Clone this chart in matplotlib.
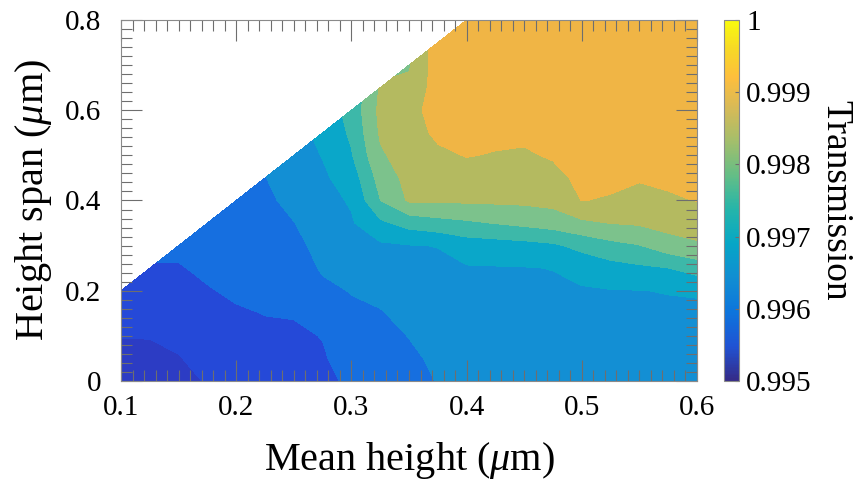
import numpy as np
import matplotlib
matplotlib.use("Agg")
import matplotlib.pyplot as plt
from matplotlib.colors import LinearSegmentedColormap, Normalize
from matplotlib.ticker import MultipleLocator
import matplotlib.cm as cm

plt.rcParams['font.family'] = 'Liberation Serif'
plt.rcParams['mathtext.fontset'] = 'custom'
plt.rcParams['mathtext.rm'] = 'Liberation Serif'
plt.rcParams['mathtext.it'] = 'Liberation Serif:italic'

# grid of the simulation
mean_height = [0.1, 0.125, 0.15, 0.175, 0.2, 0.225, 0.25, 0.275, 0.3, 0.325, 0.35,
               0.375, 0.4, 0.425, 0.45, 0.475, 0.5, 0.525, 0.55, 0.575, 0.6]
height_span = [0.0, 0.05, 0.1, 0.15, 0.2, 0.25, 0.3, 0.35, 0.4, 0.45, 0.5,
               0.55, 0.6, 0.65, 0.7, 0.75, 0.8]

# transmission, one list per mean height (span from 0 upwards, span <= 2*mean)
trans_cols = [
    [.99535, .99543, .99551, .99563, .99578],
    [.99537, .99544, .99551, .99565, .99580, .99597],
    [.99542, .99548, .99559, .99571, .99584, .99597, .99609],
    [.99552, .99563, .99574, .99585, .99597, .99608, .99620, .99632],
    [.99563, .99574, .99584, .99595, .99607, .99618, .99629, .99640, .99648],
    [.99574, .99583, .99592, .99601, .99609, .99617, .99625, .99634, .99642, .99649],
    [.99584, .99590, .99595, .99602, .99614, .99626, .99638, .99649, .99661, .99668, .99676],
    [.99593, .99597, .99601, .99620, .99640, .99655, .99664, .99674, .99683, .99692, .99702, .99711],
    [.99605, .99613, .99630, .99642, .99652, .99668, .99681, .99695, .99705, .99723, .99746, .99758, .99767],
    [.99620, .99629, .99638, .99647, .99661, .99677, .99692, .99740, .99799, .99819, .99843, .99856, .99862, .99855],
    [.99634, .99643, .99651, .99663, .99675, .99686, .99698, .99769, .99856, .99866, .99874, .99880, .99885, .99862, .99845],
    [.99652, .99657, .99666, .99674, .99683, .99692, .99701, .99783, .99855, .99873, .99891, .99909, .99918, .99922, .99925, .99927],
    [.99658, .99666, .99673, .99681, .99689, .99696, .99724, .99792, .99858, .99879, .99902, .99915, .99922, .99925, .99927, .99929, .99930],
    [.99660, .99668, .99676, .99683, .99691, .99697, .99728, .99802, .99859, .99878, .99897, .99912, .99920, .99924, .99926, .99928, .99930],
    [.99662, .99669, .99676, .99684, .99691, .99698, .99733, .99812, .99860, .99877, .99894, .99910, .99918, .99922, .99925, .99928, .99930],
    [.99663, .99670, .99678, .99685, .99693, .99701, .99742, .99823, .99865, .99885, .99905, .99915, .99920, .99923, .99926, .99928, .99930],
    [.99664, .99672, .99680, .99687, .99695, .99717, .99764, .99840, .99901, .99912, .99918, .99920, .99922, .99924, .99926, .99928, .99930],
    [.99665, .99673, .99681, .99690, .99698, .99731, .99785, .99851, .99896, .99910, .99916, .99920, .99922, .99924, .99926, .99928, .99930],
    [.99666, .99674, .99683, .99691, .99699, .99741, .99798, .99856, .99881, .99905, .99913, .99918, .99920, .99923, .99926, .99928, .99930],
    [.99666, .99674, .99683, .99691, .99702, .99749, .99828, .99868, .99895, .99907, .99913, .99917, .99920, .99923, .99926, .99928, .99930],
    [.99667, .99675, .99683, .99692, .99704, .99772, .99843, .99873, .99901, .99908, .99913, .99917, .99920, .99923, .99926, .99928, .99930],
]

levels = np.linspace(0.995, 1.0, 11)
cbar_ticks = [0.995, 0.996, 0.997, 0.998, 0.999, 1.0]
cbar_labels = ['0.995', '0.996', '0.997', '0.998', '0.999', '1']

# fill colours of the contour bands (lowest first)
band_colors = ['#2c3cc4', '#2549d8', '#166fe0', '#138fd4', '#0aa7c9',
               '#3db8a9', '#7cc28c', '#b4ba60', '#f0b545', '#f7d631']

# parula-like colormap for the colorbar
parula_pts = [(0.2081, 0.1663, 0.5292), (0.1253, 0.3242, 0.8303), (0.0498, 0.4586, 0.8641),
              (0.0641, 0.5570, 0.8240), (0.0228, 0.6535, 0.7768), (0.1453, 0.7098, 0.6646),
              (0.3953, 0.7459, 0.5244), (0.6473, 0.7456, 0.4188), (0.8507, 0.7299, 0.3360),
              (0.9938, 0.7455, 0.2403), (0.9697, 0.8481, 0.1475), (0.9763, 0.9831, 0.0538)]
parula_pos = [0, 6/63, 12/63, 18/63, 24/63, 30/63, 36/63, 42/63, 48/63, 53/63, 58/63, 1]
parula = LinearSegmentedColormap.from_list('parula', list(zip(parula_pos, parula_pts)))

ncol = len(height_span)
Z = np.array([c + [np.nan] * (ncol - len(c)) for c in trans_cols]).T
Z = np.ma.masked_invalid(Z)
X, Y = np.meshgrid(mean_height, height_span)

fig = plt.figure(figsize=(8.59, 4.83), dpi=100)
ax = fig.add_axes([0.1409, 0.2112, 0.6705, 0.7474])
cax = fig.add_axes([0.8428, 0.2112, 0.0175, 0.7474])

ax.contourf(X, Y, Z, levels=levels, colors=band_colors, corner_mask=True, antialiased=False)

ax.set_xlim(0.1, 0.6)
ax.set_ylim(0, 0.8)
ax.xaxis.set_major_locator(MultipleLocator(0.1))
ax.xaxis.set_minor_locator(MultipleLocator(0.01))
ax.yaxis.set_major_locator(MultipleLocator(0.2))
ax.yaxis.set_minor_locator(MultipleLocator(0.02))
ax.xaxis.set_major_formatter(plt.FuncFormatter(lambda v, p: f'{v:g}'))
ax.yaxis.set_major_formatter(plt.FuncFormatter(lambda v, p: f'{v:g}'))
ax.tick_params(which='both', direction='in', top=True, right=True, color='#6e6e6e', width=0.8)
ax.tick_params(which='major', length=15, labelsize=21)
ax.tick_params(which='minor', length=8)
ax.tick_params(axis='x', pad=10)
ax.tick_params(axis='y', pad=14)
for s in ax.spines.values():
    s.set_color('#8a8a8a')
    s.set_linewidth(0.8)

ax.set_xlabel(r'Mean height ($\mu$m)', fontsize=29, labelpad=14)
ax.set_ylabel(r'Height span ($\mu$m)', fontsize=29, labelpad=8)

sm = cm.ScalarMappable(norm=Normalize(0.995, 1.0), cmap=parula)
cb = fig.colorbar(sm, cax=cax)
cb.set_ticks(cbar_ticks)
cb.set_ticklabels(cbar_labels)
cb.ax.tick_params(direction='in', length=3, width=0.8, color='#6e6e6e', labelsize=21, pad=5)
cb.outline.set_edgecolor('#8a8a8a')
cb.outline.set_linewidth(0.8)
cb.set_label('Transmission', fontsize=27, rotation=270, labelpad=30)

fig.savefig('out.png', dpi=100)
